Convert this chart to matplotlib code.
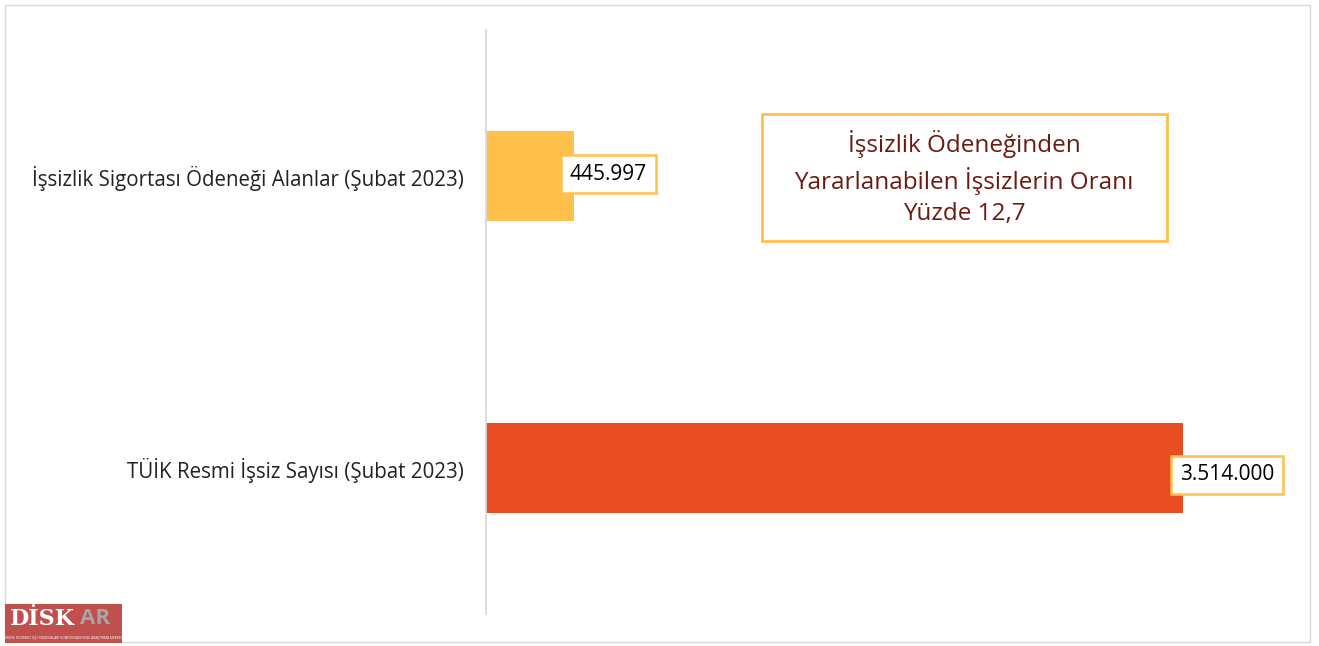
import matplotlib.pyplot as plt
from matplotlib.patches import Rectangle

categories = ['TÜİK Resmi İşsiz Sayısı (Şubat 2023)',
              'İşsizlik Sigortası Ödeneği Alanlar (Şubat 2023)']
values     = [3514000, 445997]
labels     = ['3.514.000', '445.997']
colors     = ['#E84C22', '#FFC04C']
note       = 'İşsizlik Ödeneğinden\nYararlanabilen İşsizlerin Oranı\nYüzde 12,7'

W, H = 1319, 646
fig = plt.figure(figsize=(W / 100, H / 100), dpi=100)
plt.rcParams['font.family'] = ['Open Sans', 'DejaVu Sans']

# axes: x from 486 px to 1305 px, y from 30 px to 614 px
ax = fig.add_axes([486 / W, 1 - 614 / H, (1305 - 486) / W, (614 - 30) / H])
xmax = 3514000 * (1305 - 486) / (1183 - 486)
ax.barh(range(len(values)), values, height=0.31, color=colors)
ax.set_xlim(0, xmax)
ax.set_ylim(-0.5, 1.5)
ax.set_yticks(range(len(values)))
ax.set_yticklabels(categories, fontsize=14.8, color='#222222')
ax.tick_params(axis='y', length=0, pad=16)
ax.set_xticks([])
for s in ['top', 'right', 'bottom']:
    ax.spines[s].set_visible(False)
ax.spines['left'].set_color('#D9D9D9')
ax.spines['left'].set_linewidth(1.3)

offsets = [(44, -7), (34, 2)]
for i, (v, lab) in enumerate(zip(values, labels)):
    ax.annotate(lab, xy=(v, i), xytext=offsets[i], textcoords='offset pixels',
                ha='center', va='center', fontsize=15, color='black',
                bbox=dict(boxstyle='square,pad=0.42', fc='white', ec='#FFC04C', lw=1.8))

# note box
fig.add_artist(Rectangle((762 / W, 1 - 241 / H), 405 / W, 127 / H, transform=fig.transFigure,
                         fc='white', ec='#FFC04C', lw=2))
fig.text(964 / W, 1 - 178 / H, note, ha='center', va='center', fontsize=17.5,
         color='#6B1A10', linespacing=1.42)

# outer frame
fig.add_artist(Rectangle((5 / W, 1 - 642 / H), 1305 / W, 637 / H, transform=fig.transFigure,
                         fill=False, ec='#D9D9D9', lw=1))

# logo
fig.add_artist(Rectangle((5 / W, 1 - 643 / H), 117 / W, 39 / H, transform=fig.transFigure,
                         fc='#C0504D', ec='none'))
fig.text(10 / W, 1 - 619 / H, 'DİSK', ha='left', va='center', fontsize=16,
         fontweight='bold', color='white', family='DejaVu Serif')
fig.text(80 / W, 1 - 619 / H, 'AR', ha='left', va='center', fontsize=16,
         fontweight='bold', color='#A6A6A6')
fig.text(63 / W, 1 - 638 / H, 'TÜRKİYE DEVRİMCİ İŞÇİ SENDİKALARI KONFEDERASYONU ARAŞTIRMA MERKEZİ',
         ha='center', va='center', fontsize=2.3, color='white')

fig.savefig('out.png', dpi=100)
